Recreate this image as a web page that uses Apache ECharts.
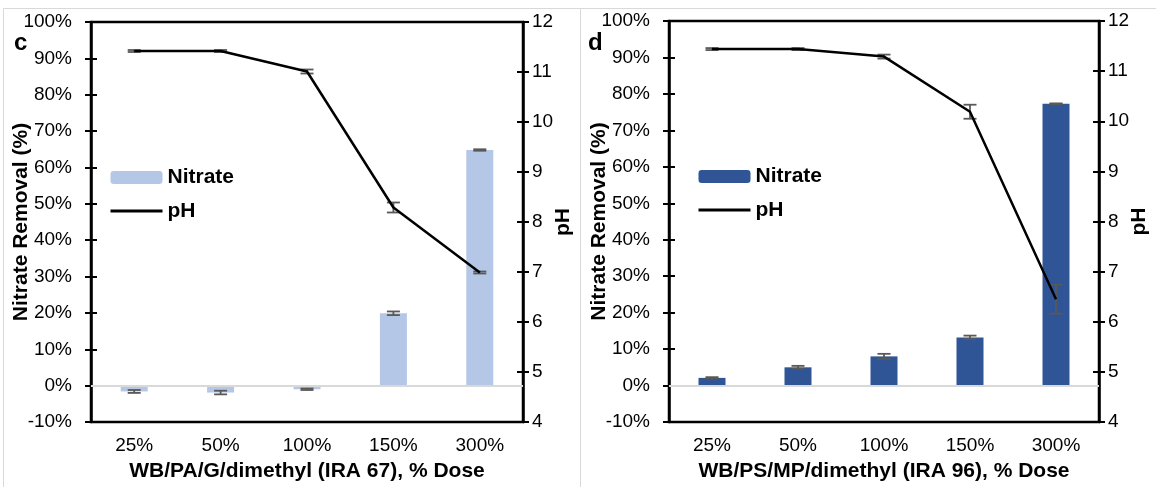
<!DOCTYPE html>
<html><head><meta charset="utf-8">
<script src="https://cdn.jsdelivr.net/npm/echarts@6/dist/echarts.min.js"></script>
<style>html,body{margin:0;padding:0;background:#fff}#c{width:1156px;height:487px}</style>
</head><body><div id="c"></div>
<script>
const categories = ['25%', '50%', '100%', '150%', '300%'];
// Panel c: WB/PA/G/dimethyl (IRA 67)
const nitrateC = [-1.6, -1.9, -1.0, 19.9, 64.8];
const nitrateCErr = [0.4, 0.5, 0.2, 0.5, 0.2];
const pHC = [11.42, 11.42, 11.01, 8.29, 6.99];
const pHCErr = [0.02, 0.02, 0.04, 0.10, 0.02];
// Panel d: WB/PS/MP/dimethyl (IRA 96)
const nitrateD = [2.1, 5.0, 8.0, 13.2, 77.3];
const nitrateDErr = [0.2, 0.4, 0.7, 0.5, 0.1];
const pHD = [11.44, 11.44, 11.29, 10.19, 6.45];
const pHDErr = [0.02, 0.02, 0.04, 0.14, 0.29];
const removalAxis = { min: -10, max: 100, interval: 10 };
const pHAxis = { min: 4, max: 12, interval: 1 };
const xTitles = ['WB/PA/G/dimethyl (IRA 67), % Dose', 'WB/PS/MP/dimethyl (IRA 96), % Dose'];
const panelLetters = ['c', 'd'];

const FONT = '"Liberation Sans", Arial, sans-serif';
const chart = echarts.init(document.getElementById('c'), null, { renderer: 'canvas' });

const panels = [
  { grid: { left: 91, top: 22, width: 432, height: 400 }, nitrate: nitrateC, nErr: nitrateCErr, pH: pHC, pErr: pHCErr,
    barColor: '#B4C7E7', suffix: '', legendPos: { left: 109, top: 166.5 }, letterPos: [14, 31] },
  { grid: { left: 669, top: 21, width: 430, height: 402 }, nitrate: nitrateD, nErr: nitrateDErr, pH: pHD, pErr: pHDErr,
    barColor: '#2F5597', suffix: ' (d)', legendPos: { left: 697, top: 165.5 }, letterPos: [588, 31] }
];

function errRender(params, api) {
  const x = api.value(0), lo = api.value(1), hi = api.value(2);
  const p1 = api.coord([x, lo]), p2 = api.coord([x, hi]);
  const w = 6.5;
  const st = { stroke: '#595959', lineWidth: 1.8 };
  return { type: 'group', children: [
    { type: 'line', shape: { x1: p1[0], y1: p1[1], x2: p2[0], y2: p2[1] }, style: st },
    { type: 'line', shape: { x1: p1[0] - w, y1: p1[1], x2: p1[0] + w, y2: p1[1] }, style: st },
    { type: 'line', shape: { x1: p2[0] - w, y1: p2[1], x2: p2[0] + w, y2: p2[1] }, style: st }
  ] };
}

const grids = [], xAxes = [], yAxes = [], series = [], legends = [], graphics = [];
const labelStyle = { fontFamily: FONT, fontSize: 19, color: '#000' };
const titleStyle = { fontFamily: FONT, fontSize: 21, fontWeight: 'bold', color: '#000' };

panels.forEach((p, i) => {
  grids.push(Object.assign({ show: true, borderColor: '#000', borderWidth: 2.5, backgroundColor: 'transparent' }, p.grid));
  xAxes.push({
    type: 'category', gridIndex: i, data: categories, position: 'bottom',
    axisLine: { show: false, onZero: false }, axisTick: { show: false },
    axisLabel: Object.assign({ margin: 14 }, labelStyle),
    name: xTitles[i], nameLocation: 'middle', nameGap: 39, nameTextStyle: titleStyle
  });
  const base = yAxes.length;
  yAxes.push(Object.assign({
    type: 'value', gridIndex: i, position: 'left', splitLine: { show: false },
    axisLine: { show: true, lineStyle: { color: '#000', width: 2.5 } },
    axisTick: { show: true, length: 6, lineStyle: { color: '#000', width: 2 } },
    axisLabel: Object.assign({ margin: 19, formatter: v => v + '%' }, labelStyle),
    name: 'Nitrate Removal (%)', nameLocation: 'middle', nameGap: 59, nameMoveOverlap: false,
    nameTextStyle: titleStyle
  }, removalAxis));
  yAxes.push(Object.assign({
    type: 'value', gridIndex: i, position: 'left', splitLine: { show: false },
    axisLine: { show: false }, axisLabel: { show: false },
    axisTick: { show: true, inside: true, length: 6, lineStyle: { color: '#000', width: 2 } }
  }, removalAxis));
  yAxes.push(Object.assign({
    type: 'value', gridIndex: i, position: 'right', splitLine: { show: false },
    axisLine: { show: true, lineStyle: { color: '#000', width: 2.5 } },
    axisTick: { show: true, length: 6, lineStyle: { color: '#000', width: 2 } },
    axisLabel: Object.assign({ margin: 9 }, labelStyle),
    name: 'pH', nameLocation: 'middle', nameGap: 30, nameRotate: 90, nameMoveOverlap: false,
    nameTextStyle: titleStyle
  }, pHAxis));
  yAxes.push(Object.assign({
    type: 'value', gridIndex: i, position: 'right', splitLine: { show: false },
    axisLine: { show: false }, axisLabel: { show: false },
    axisTick: { show: true, inside: true, length: 6, lineStyle: { color: '#000', width: 2 } }
  }, pHAxis));

  series.push({
    type: 'bar', name: 'Nitrate' + p.suffix, xAxisIndex: i, yAxisIndex: base,
    data: p.nitrate, barWidth: 27, itemStyle: { color: p.barColor }, z: 2,
    markLine: { silent: true, symbol: ['none', 'none'], label: { show: false },
      lineStyle: { color: '#D9D9D9', width: 2, type: 'solid' }, data: [{ yAxis: 0 }] }
  });
  series.push({
    type: 'custom', name: 'nitrateErr' + i, xAxisIndex: i, yAxisIndex: base, z: 4,
    renderItem: errRender, encode: { x: 0, y: [1, 2] },
    data: p.nitrate.map((v, k) => [k, v - p.nErr[k], v + p.nErr[k]])
  });
  series.push({
    type: 'custom', name: 'pHErr' + i, xAxisIndex: i, yAxisIndex: base + 2, z: 4,
    renderItem: errRender, encode: { x: 0, y: [1, 2] },
    data: p.pH.map((v, k) => [k, v - p.pErr[k], v + p.pErr[k]])
  });
  series.push({
    type: 'line', name: 'pH' + p.suffix, xAxisIndex: i, yAxisIndex: base + 2,
    data: p.pH, symbol: 'none', z: 5,
    lineStyle: { color: '#000', width: 2.5 }, itemStyle: { color: '#000' }
  });
  legends.push({
    orient: 'vertical', left: p.legendPos.left, top: p.legendPos.top, selectedMode: false, padding: 0,
    itemWidth: 52, itemHeight: 13, itemGap: 11.5,
    data: [{ name: 'Nitrate' + p.suffix }, { name: 'pH' + p.suffix, itemStyle: { opacity: 0 }, lineStyle: { width: 3 } }],
    formatter: n => n.replace(' (d)', ''),
    textStyle: Object.assign({ lineHeight: 22 }, titleStyle)
  });
  graphics.push({
    type: 'text', left: p.letterPos[0], top: p.letterPos[1], silent: true,
    style: { text: panelLetters[i], font: 'bold 24px ' + FONT, fill: '#000' }
  });
});

graphics.push({ type: 'rect', shape: { x: 3.5, y: 8.5, width: 577, height: 490 }, style: { fill: 'none', stroke: '#D9D9D9', lineWidth: 1 }, silent: true, z: -10 });
graphics.push({ type: 'rect', shape: { x: 580.5, y: 8.5, width: 590, height: 490 }, style: { fill: 'none', stroke: '#D9D9D9', lineWidth: 1 }, silent: true, z: -10 });

chart.setOption({
  animation: false,
  backgroundColor: '#fff',
  grid: grids, xAxis: xAxes, yAxis: yAxes, series: series, legend: legends, graphic: graphics
});
</script></body></html>
